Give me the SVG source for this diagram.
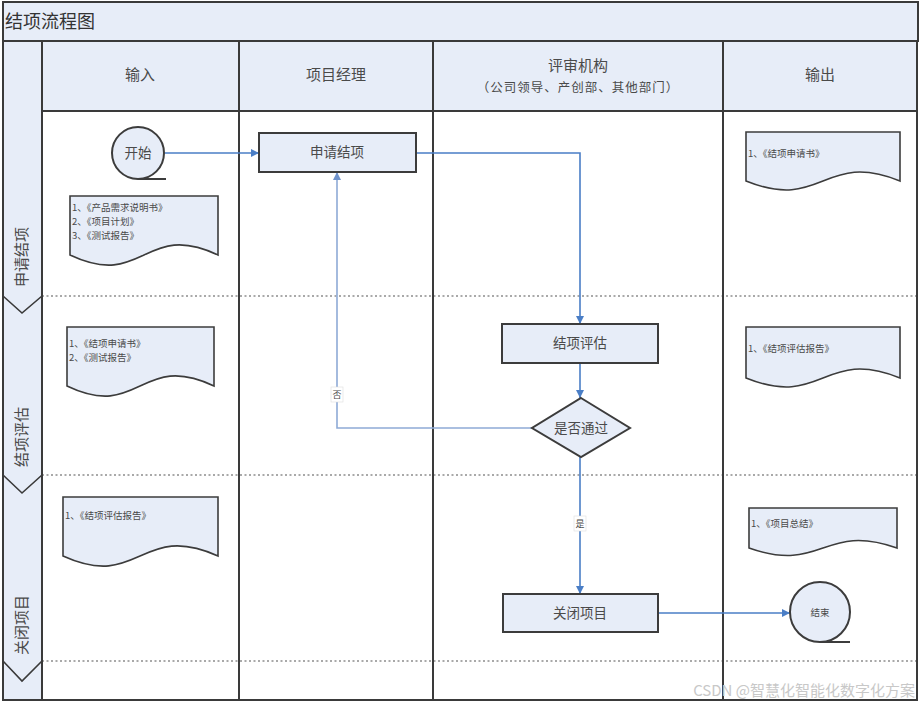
<svg xmlns="http://www.w3.org/2000/svg" width="922" height="706" viewBox="0 0 922 706">
<defs>
<style>
text{font-family:"Noto Sans CJK SC","Noto Sans",sans-serif;fill:#4a4a4a}
.frame{fill:none;stroke:#3a3a3a;stroke-width:2}
.band{fill:#e7edf8;stroke:#3a3a3a;stroke-width:2}
.dot{stroke:#555;stroke-width:1.2;stroke-dasharray:2,2.5;fill:none}
.node{fill:#e7edf8;stroke:#3c3c3c;stroke-width:2}
.doc{fill:#e7edf8;stroke:#3c3c3c;stroke-width:1.6}
.hd{font-size:15px;text-anchor:middle}
.nt{font-size:13.5px;text-anchor:middle}
.dt{font-size:9.5px}
.lane{font-size:15px;text-anchor:middle}
.c{fill:none;stroke:#4a7ec6;stroke-width:1.6}
.cp{fill:none;stroke:#8eaad6;stroke-width:1.6}
.lbl{font-size:9px;text-anchor:middle}
</style>
<marker id="a" viewBox="0 0 10 10" refX="10" refY="5" markerWidth="8" markerHeight="8" markerUnits="userSpaceOnUse" orient="auto"><path d="M0,0 L10,5 L0,10 z" fill="#4a7ec6"/></marker>
<marker id="ap" viewBox="0 0 10 10" refX="10" refY="5" markerWidth="8" markerHeight="8" markerUnits="userSpaceOnUse" orient="auto"><path d="M0,0 L10,5 L0,10 z" fill="#6f93cc"/></marker>
</defs>
<rect width="922" height="706" fill="#fff"/>
<g id="frame">
<rect class="band" x="3" y="2" width="915" height="39"/>
<text x="5" y="28" style="font-size:18px;fill:#333">结项流程图</text>
<rect x="3" y="41" width="39" height="659" fill="#e7edf8"/>
<rect x="42" y="41" width="875" height="70" fill="#e7edf8"/>
<line class="dot" x1="42" y1="296" x2="917" y2="296"/>
<line class="dot" x1="42" y1="475" x2="917" y2="475"/>
<line class="dot" x1="42" y1="661" x2="917" y2="661"/>
<rect class="frame" x="3" y="41" width="914" height="659"/>
<line class="frame" x1="42" y1="41" x2="42" y2="700"/>
<line class="frame" x1="239" y1="41" x2="239" y2="700"/>
<line class="frame" x1="433" y1="41" x2="433" y2="700"/>
<line class="frame" x1="723" y1="41" x2="723" y2="700"/>
<line class="frame" x1="42" y1="111" x2="917" y2="111"/>
<polyline fill="none" stroke="#3a3a3a" stroke-width="1.6" points="3,296 22,313 42,296"/>
<polyline fill="none" stroke="#3a3a3a" stroke-width="1.6" points="3,475 22,493 42,475"/>
<polyline fill="none" stroke="#3a3a3a" stroke-width="1.6" points="3,661 22,681 42,661"/>
<text class="hd" x="140" y="80">输入</text>
<text class="hd" x="336" y="80">项目经理</text>
<text class="hd" x="578" y="71">评审机构</text>
<text x="578" y="92" style="font-size:12.5px;text-anchor:middle;letter-spacing:1px">（公司领导、产创部、其他部门）</text>
<text class="hd" x="820" y="80">输出</text>
<text class="lane" transform="translate(27,257) rotate(-90)">申请结项</text>
<text class="lane" transform="translate(27,437) rotate(-90)">结项评估</text>
<text class="lane" transform="translate(27,625) rotate(-90)">关闭项目</text>
</g>
<g id="connectors">
<line class="c" x1="165" y1="153" x2="259" y2="153" marker-end="url(#a)"/>
<polyline class="c" points="416,153 580,153 580,324" marker-end="url(#a)"/>
<line class="c" x1="580" y1="363" x2="580" y2="398" marker-end="url(#a)"/>
<polyline class="cp" points="532,428 337,428 337,172" marker-end="url(#ap)"/>
<rect x="331" y="387" width="12" height="15" fill="#fff" stroke="#ddd" stroke-width="0.6"/>
<text class="lbl" x="337" y="398">否</text>
<line class="c" x1="580" y1="457" x2="580" y2="594" marker-end="url(#a)"/>
<rect x="574" y="516" width="12" height="15" fill="#fff" stroke="#ddd" stroke-width="0.6"/>
<text class="lbl" x="580" y="527">是</text>
<line class="c" x1="658" y1="613" x2="790" y2="613" marker-end="url(#a)"/>
</g>
<g id="start">
<circle class="node" cx="138" cy="153" r="26"/>
<line x1="138" y1="179" x2="166" y2="179" stroke="#3c3c3c" stroke-width="2"/>
<text class="nt" x="138" y="158">开始</text>
</g>
<g id="doc-in1">
<path class="doc" d="M70,196 H218 V255 C144,220 144,290 70,255 Z"/>
<text class="dt" x="72" y="211">1、《产品需求说明书》</text>
<text class="dt" x="72" y="225">2、《项目计划》</text>
<text class="dt" x="72" y="239">3、《测试报告》</text>
</g>
<g id="doc-in2">
<path class="doc" d="M67,327 H214 V386 C140,351 140,421 67,386 Z"/>
<text class="dt" x="69" y="347">1、《结项申请书》</text>
<text class="dt" x="69" y="361">2、《测试报告》</text>
</g>
<g id="doc-in3">
<path class="doc" d="M63,497 H218 V556 C140,521 140,591 63,556 Z"/>
<text class="dt" x="65" y="519">1、《结项评估报告》</text>
</g>
<g id="apply">
<rect class="node" x="259" y="133" width="157" height="39"/>
<text class="nt" x="337" y="157">申请结项</text>
</g>
<g id="evaluate">
<rect class="node" x="502" y="324" width="156" height="39"/>
<text class="nt" x="580" y="348">结项评估</text>
</g>
<g id="decision">
<polygon class="node" points="581,398 630,428 581,457 532,428"/>
<text class="nt" x="581" y="433">是否通过</text>
</g>
<g id="close">
<rect class="node" x="503" y="594" width="155" height="38"/>
<text class="nt" x="580" y="618">关闭项目</text>
</g>
<g id="doc-out1">
<path class="doc" d="M746,132 H900 V181 C823,150 823,212 746,181 Z"/>
<text class="dt" x="748" y="157">1、《结项申请书》</text>
</g>
<g id="doc-out2">
<path class="doc" d="M746,327 H900 V378 C823,347 823,409 746,378 Z"/>
<text class="dt" x="748" y="352">1、《结项评估报告》</text>
</g>
<g id="doc-out3">
<path class="doc" d="M749,508 H897 V548 C823,522 823,574 749,548 Z"/>
<text class="dt" x="751" y="527">1、《项目总结》</text>
</g>
<g id="end">
<circle class="node" cx="820" cy="612" r="30"/>
<line x1="820" y1="642" x2="850" y2="642" stroke="#3c3c3c" stroke-width="2"/>
<text class="dt" x="820" y="616" text-anchor="middle">结束</text>
</g>
<text x="915" y="696" style="font-size:15px;fill:#c8c8c8;text-anchor:end">CSDN @智慧化智能化数字化方案</text>
</svg>
